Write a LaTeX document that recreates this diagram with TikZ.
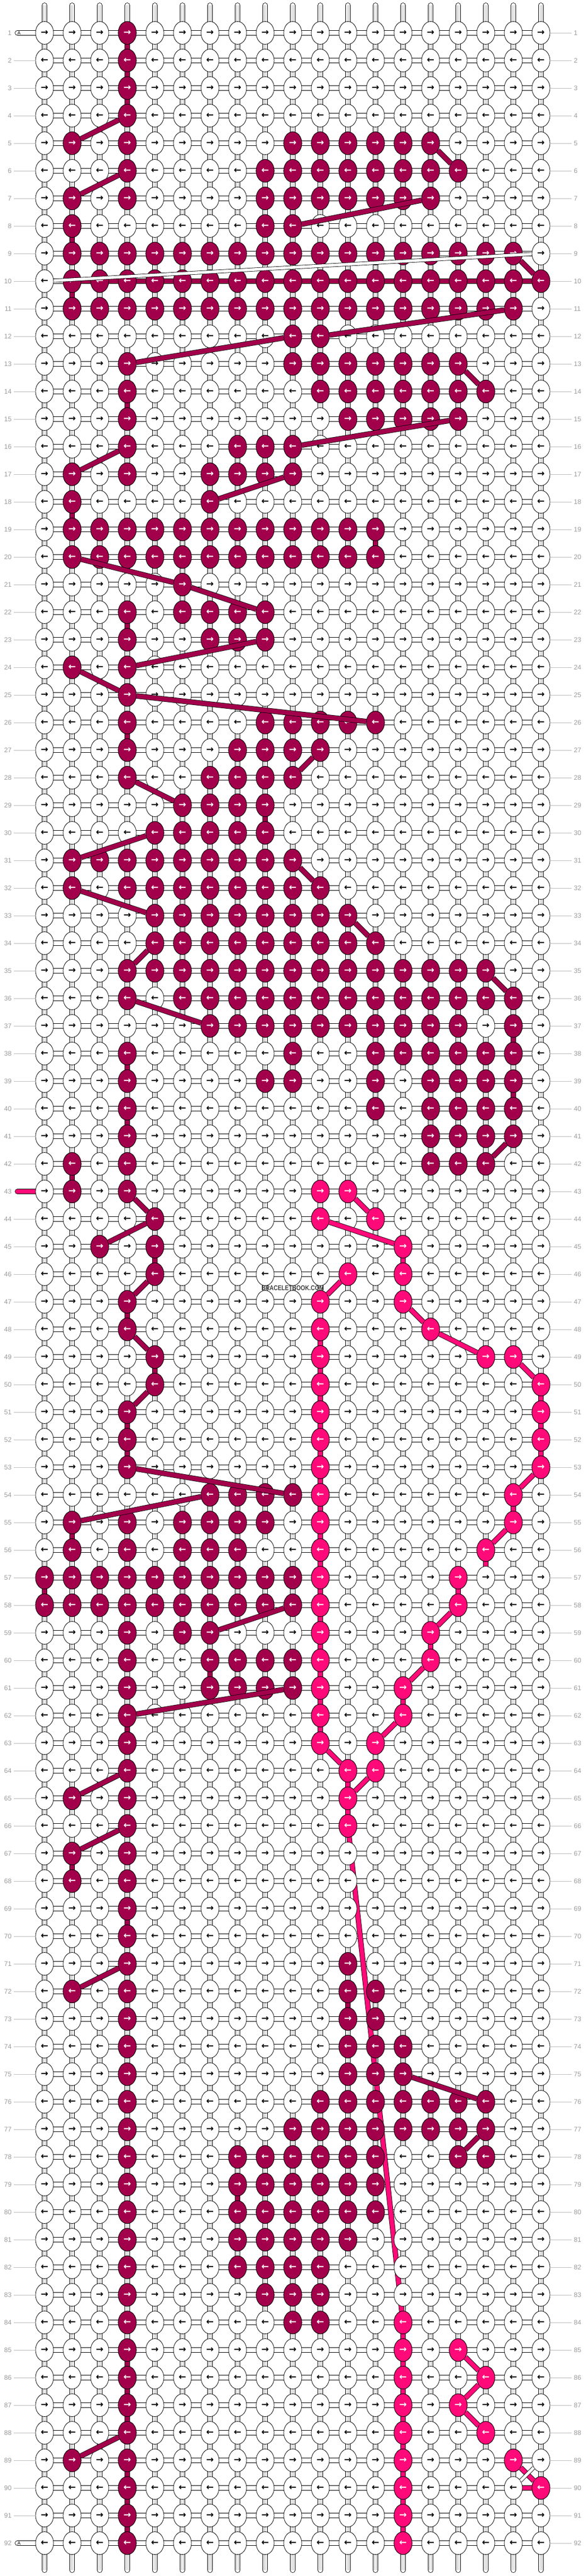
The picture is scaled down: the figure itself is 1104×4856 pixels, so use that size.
\documentclass[tikz,border=0pt]{standalone}
\usepackage{fontspec}
\setmainfont{Liberation Sans}
\newfontfamily\arrowfont{DejaVu Sans}
\usetikzlibrary{shapes.geometric,backgrounds}
\definecolor{wine}{HTML}{A3004C}
\definecolor{rosa}{HTML}{FF0A78}
\definecolor{labelgray}{HTML}{9A9A9A}
\definecolor{linegray}{HTML}{BBBBBB}
\tikzset{
  knot/.style={ellipse, draw, line width=0.8pt, fill=white, minimum width=34pt, minimum height=43pt, inner sep=0pt, font=\arrowfont\bfseries\fontsize{17}{17}\selectfont},
  wineknot/.style={knot, fill=wine, text=white},
  rosaknot/.style={knot, fill=rosa, text=white},
  hbar/.style={line width=10pt, draw=black, line cap=round, postaction={draw=white, line width=8.4pt}},
  pipe/.style={line width=10pt, draw=black, line cap=round, postaction={draw=white, line width=8.4pt}, postaction={draw=linegray, line width=0.7pt, double=white, double distance=2.4pt, line cap=butt}},
  winelink/.style={line width=10pt, draw=black, postaction={draw=wine, line width=8.4pt}},
  rosalink/.style={line width=10pt, draw=black, postaction={draw=rosa, line width=8.4pt}},
  wineband/.style={line width=10pt, draw=black, postaction={draw=wine, line width=8.4pt}},
  rosaband/.style={line width=10pt, draw=black, postaction={draw=rosa, line width=8.4pt}},
  whiteband/.style={line width=7pt, draw=black, postaction={draw=white, line width=5.4pt}},
  rowlabel/.style={text=labelgray, inner xsep=4pt, inner ysep=0pt, font=\fontsize{12.5}{12.5}\selectfont},
  labelline/.style={draw=linegray, line width=0.8pt}
}
\begin{document}
\begin{tikzpicture}[x=1pt,y=-1pt]
\useasboundingbox (0,0) rectangle (1104,4856);
% knots
\foreach \r in {1,...,92} {
  \foreach \c in {1,...,19} {
    \node[knot] (k\r-\c) at ({84+52*(\c-1)},{62+52*(\r-1)}) {\ifodd\r →\else ←\fi};
  }
}
% coloured knots
\foreach \r/\cols in {1/{4},2/{4},3/{4},4/{4},5/{2,4,10,11,12,13,14,15},
    6/{4,9,10,11,12,13,14,15,16},7/{2,4,9,10,11,12,13,14,15},8/{2,9,10},
    9/{2,...,18},10/{2,...,19},11/{2,...,18},12/{10,11},13/{4,10,11,12,13,14,15,16},
    14/{4,11,12,13,14,15,16,17},15/{4,12,13,14,15,16},16/{4,8,9,10},17/{2,4,7,8,9,10},
    18/{2,7},19/{2,...,13},20/{2,...,13},21/{6},22/{4,6,7,8,9},23/{4,7,8,9},24/{2,4},
    25/{4},26/{4,9,10,11,12,13},27/{4,8,9,10,11},28/{4,7,8,9,10},29/{6,...,9},
    30/{5,...,9},31/{2,...,10},32/{2,4,5,6,7,8,9,10,11},33/{5,...,12},34/{5,...,13},
    35/{4,...,17},36/{4,6,7,8,9,10,11,12,13,14,15,16,17,18},
    37/{7,8,9,10,11,12,13,14,15,16,18},38/{4,10,13,14,15,16,17,18},
    39/{4,9,10,13,15,16,17,18},40/{4,13,15,16,17,18},41/{4,15,16,17,18},
    42/{2,4,15,16,17},43/{2,4},44/{5},45/{3,5},46/{5},47/{4},48/{4},
    49/{5},50/{5},51/{4},52/{4},53/{4},54/{7,8,9,10},55/{2,4,6,7,8,9},56/{2,4,6,7,8},
    57/{1,...,10},58/{1,...,10},59/{4,6,7},60/{4,7,8,9,10},61/{4,7,8,9,10},62/{4},
    63/{4},64/{4},65/{2,4},66/{4},67/{2,4},68/{2,4},69/{4},70/{4},71/{4,12},
    72/{2,4,12,13},73/{4,12,13},74/{4,12,13,14},75/{4,12,13,14},
    76/{4,11,12,13,14,15,16,17},77/{4,10,11,12,13,14,15,16,17},78/{4,8,9,10,11,12,13,16,17},
    79/{4,8,9,10,11,12,13},80/{4,8,9,10,11,12,13},81/{4,8,9,10,11,12},82/{4,8,9,10,11},
    83/{4,9,10,11},84/{4,10,11},85/{4},86/{4},87/{4},88/{4},89/{2,4},90/{4},91/{4},92/{4}} {
  \foreach \c in \cols {
    \node[wineknot] (k\r-\c) at ({84+52*(\c-1)},{62+52*(\r-1)}) {\ifodd\r →\else ←\fi};
  }
}
\foreach \r/\cols in {43/{11,12},44/{11,13},45/{14},46/{12,14},47/{11,14},48/{11,15},
    49/{11,17,18},50/{11,19},51/{11,19},52/{11,19},53/{11,19},54/{11,18},55/{11,18},
    56/{11,17},57/{11,16},58/{11,16},59/{11,15},60/{11,15},61/{11,14},62/{11,14},
    63/{11,13},64/{12,13},65/{12},66/{12},84/{14},85/{14,16},86/{14,17},87/{14,16},
    88/{14,17},89/{14,18},90/{14,19},91/{14},92/{14}} {
  \foreach \c in \cols {
    \node[rosaknot] (k\r-\c) at ({84+52*(\c-1)},{62+52*(\r-1)}) {\ifodd\r →\else ←\fi};
  }
}
% string ends
\foreach \c in {1,...,19} {
  \coordinate (t\c) at ({84+52*(\c-1)},10);
  \coordinate (b\c) at ({84+52*(\c-1)},4845);
}
\coordinate (a1) at (33,62);
\coordinate (a92) at (33,4794);
\coordinate (a43) at (33,2246);
\begin{pgfonlayer}{background}
  \foreach \c in {1,...,19}
    \draw[pipe] (t\c) -- (b\c);
  \foreach \r in {2,...,91}
    \draw[hbar] (k\r-1.center) -- (k\r-19.center);
  \draw[hbar] (a1) -- (k1-19.center);
  \draw[hbar] (a92) -- (k92-19.center);
  \draw[rosalink, line cap=round] (a43) -- (k43-1.center);
  \foreach \r/\c/\rn in {1/4/2,2/4/3,3/4/4,8/2/9,10/2/11,14/4/15,18/2/19,19/13/20,22/4/23,26/4/27,
      29/9/30,37/18/38,38/4/39,39/18/40,40/4/41,42/2/43,45/5/46,47/4/48,49/5/50,51/4/52,52/4/53,
      55/2/56,57/1/58,60/7/61,62/4/63,67/2/68,69/4/70,72/12/73,79/8/80,85/4/86,86/4/87,87/4/88,
      89/4/90,90/4/91,91/4/92}
    \draw[winelink] (k\r-\c.center) -- (k\rn-\c.center);
  \foreach \r/\c/\rn in {45/14/46,48/11/49,49/11/50,50/11/51,51/11/52,52/11/53,53/11/54,
      54/11/55,55/11/56,56/11/57,57/11/58,58/11/59,59/11/60,60/11/61,61/11/62,62/11/63,
      50/19/51,51/19/52,52/19/53,54/18/55,56/17/57,57/16/58,59/15/60,61/14/62,64/12/65,65/12/66,
      84/14/85,85/14/86,86/14/87,87/14/88,88/14/89,89/14/90,90/14/91,91/14/92}
    \draw[rosalink] (k\r-\c.center) -- (k\rn-\c.center);
  \draw[winelink] (k10-2.center) -- (k10-19.center);
  \draw[rosalink] (k90-18.center) -- (k90-19.center);
  \draw[rosaband] (k66-12.center) -- (k84-14.center);
\end{pgfonlayer}
\node[font=\fontsize{9}{9}\selectfont, inner sep=0pt] (lA1) at (36,62) {A};
\node[font=\fontsize{9}{9}\selectfont, inner sep=0pt] (lA92) at (36,4794) {A};
% bands
\foreach \ra/\ca/\rb/\cb in {4/4/5/2,6/4/7/2,5/15/6/16,7/15/8/10,9/18/10/19,11/18/12/11,
    12/10/13/4,13/16/14/17,15/16/16/10,16/4/17/2,17/10/18/7,20/2/21/6,21/6/22/9,
    23/9/24/4,24/2/25/4,25/4/26/13,27/11/28/10,28/4/29/6,30/5/31/2,31/10/32/11,
    32/2/33/5,33/12/34/13,34/5/35/4,35/17/36/18,36/4/37/7,41/18/42/17,43/4/44/5,
    44/5/45/3,46/5/47/4,48/4/49/5,50/5/51/4,53/4/54/10,54/7/55/2,58/10/59/7,
    61/10/62/4,64/4/65/2,66/4/67/2,71/4/72/2,75/14/76/17,77/17/78/16,88/4/89/2}
  \draw[wineband] (k\ra-\ca) -- (k\rb-\cb);
\foreach \ra/\ca/\rb/\cb in {43/12/44/13,44/11/45/14,46/12/47/11,47/14/48/15,48/15/49/17,
    49/18/50/19,53/19/54/18,55/18/56/17,58/16/59/15,60/15/61/14,62/14/63/13,63/11/64/12,
    64/13/65/12,85/16/86/17,86/17/87/16,87/16/88/17,89/18/90/19}
  \draw[rosaband] (k\ra-\ca) -- (k\rb-\cb);
\foreach \ra/\ca/\rb/\cb in {9/19/10/1,89/19/90/18}
  \draw[whiteband] (k\ra-\ca) -- (k\rb-\cb);
% row numbers
\foreach \r in {1,...,92} {
  \node[rowlabel, anchor=east] (ll\r) at (26,{62+52*(\r-1)}) {\r};
  \node[rowlabel, anchor=west] (rl\r) at (1078,{62+52*(\r-1)}) {\r};
  \draw[labelline] (k\r-19.east) -- (rl\r.west);
  \ifnum\r=1 \else\ifnum\r=92 \else\ifnum\r=43 \else \draw[labelline] (ll\r.east) -- (k\r-1.west); \fi\fi\fi
}
\node[text=black!75, font=\bfseries\fontsize{13}{13}\selectfont, xscale=0.82, inner sep=0pt] (mark) at (552,2428) {BRACELETBOOK.COM};
\end{tikzpicture}
\end{document}
